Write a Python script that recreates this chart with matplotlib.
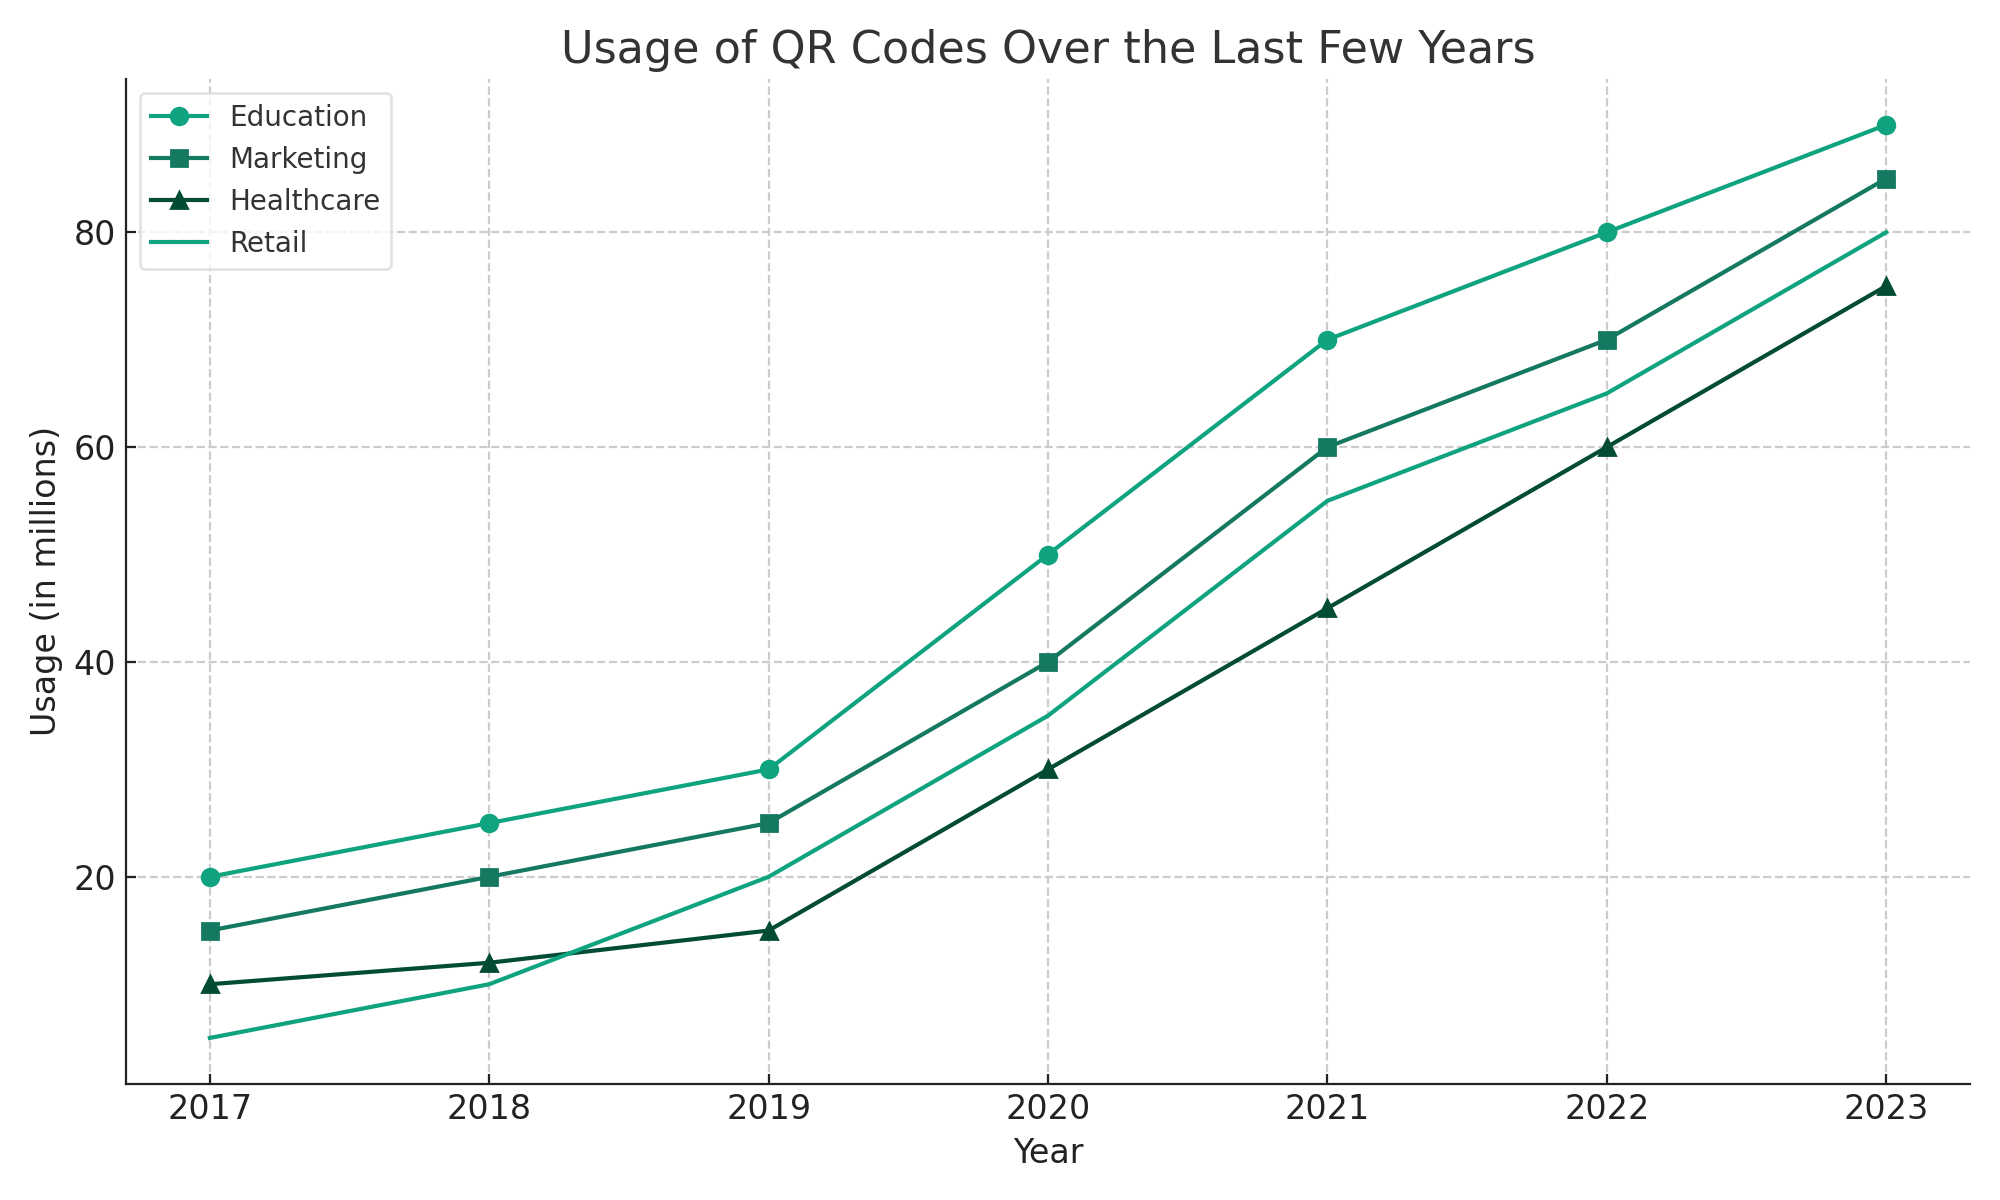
import matplotlib.pyplot as plt

years = [2017, 2018, 2019, 2020, 2021, 2022, 2023]
education = [20, 25, 30, 50, 70, 80, 90]
marketing = [15, 20, 25, 40, 60, 70, 85]
healthcare = [10, 12, 15, 30, 45, 60, 75]
retail = [5, 10, 20, 35, 55, 65, 80]

plt.rcParams['font.family'] = 'DejaVu Sans'
fig, ax = plt.subplots(figsize=(10, 6), dpi=200)

ax.plot(years, education, marker='o', color='#10a37f', linewidth=1.5, markersize=6, label='Education')
ax.plot(years, marketing, marker='s', color='#147960', linewidth=1.5, markersize=6, label='Marketing')
ax.plot(years, healthcare, marker='^', color='#024b34', linewidth=1.5, markersize=6, label='Healthcare')
ax.plot(years, retail, color='#10a37f', linewidth=1.5, label='Retail')

ax.set_title('Usage of QR Codes Over the Last Few Years', fontsize=16, color='#333333')
ax.set_xlabel('Year', fontsize=12, color='#222222')
ax.set_ylabel('Usage (in millions)', fontsize=12, color='#222222')
ax.set_xticks(years)
ax.tick_params(direction='in', labelsize=12, colors='#222222')
ax.grid(True, linestyle='--', color='#cccccc', linewidth=0.8)
for s in ['top', 'right']:
    ax.spines[s].set_visible(False)
for s in ['left', 'bottom']:
    ax.spines[s].set_color('#222222')

leg = ax.legend(loc='upper left', fontsize=10, labelcolor='#333333')
leg.get_frame().set_edgecolor('#dddddd')

fig.subplots_adjust(left=0.063, right=0.985, top=0.934, bottom=0.097)
fig.savefig('out.png', dpi=200)
